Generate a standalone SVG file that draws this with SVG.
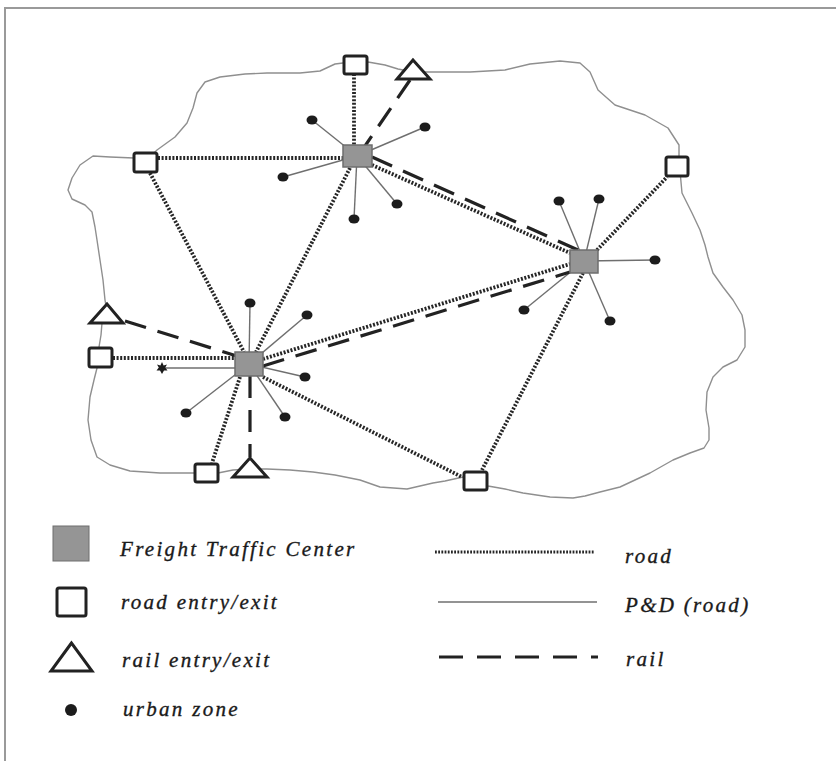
<svg xmlns="http://www.w3.org/2000/svg" width="836" height="761" viewBox="0 0 836 761">
  <style>
    .frame { stroke: #9a9a9a; stroke-width: 2; fill: none; }
    .region { fill: none; stroke: #8f8f8f; stroke-width: 1.4; stroke-linejoin: round; }
    .road { stroke: #262626; stroke-width: 3.8; stroke-dasharray: 2 1.6; fill: none; }
    .pd { stroke: #6f6f6f; stroke-width: 1.4; fill: none; }
    .rail { stroke: #222; stroke-width: 3.2; stroke-dasharray: 22 12; fill: none; }
    .ftc { fill: #959595; stroke: #6e6e6e; stroke-width: 1.5; }
    .entry { fill: #fff; stroke: #222; stroke-width: 3; }
    .zone { fill: #1c1c1c; }
    .label { font-family: "Liberation Serif", "Times New Roman", serif; font-style: italic; font-size: 21px; fill: #1a1a1a; stroke: #1a1a1a; stroke-width: 0.35; letter-spacing: 2.3px; }
  </style>

  <!-- page frame -->
  <path class="frame" d="M5 761 V8 H836"/>

  <!-- city boundary -->
  <path class="region" d="M355 63 L368 62 L385 65 L398 69 L413 72 L430 72 L470 72 L505 70 L530 64 L560 61 L580 63 L590 72 L598 90 L615 105 L645 115 L668 128 L679 145 L679 160 L682 193 L692 213 L700 230 L705 245 L708 257 L713 273 L723 287 L733 300 L742 315 L745 330 L745 347 L737 360 L723 367 L713 377 L707 392 L706 410 L709 428 L709 440 L704 448 L690 453 L673 460 L650 473 L620 487 L600 492 L585 496 L573 498 L550 497 L523 493 L505 489 L488 486 L475 481 L463 477 L445 481 L433 483 L407 489 L380 487 L360 480 L335 475 L313 472 L290 470 L267 469 L250 469 L233 470 L218 473 L206 473 L193 473 L160 473 L130 471 L110 465 L97 457 L91 440 L88 420 L90 397 L94 380 L97 368 L100 357 L99 347 L101 335 L102 323 L107 312 L105 300 L103 280 L100 260 L97 240 L95 227 L92 212 L85 205 L72 199 L68 190 L72 178 L80 165 L93 156 L110 157 L134 158 L145 162 L157 150 L175 137 L187 123 L193 108 L197 93 L205 82 L220 77 L245 74 L267 73 L300 73 L320 71 L335 64 L343 63 Z"/>

  <!-- connectors -->
  <g id="connectors">
    <!-- P&D (road) links to urban zones -->
    <g id="pd-links">
      <line class="pd" x1="357" y1="156" x2="312" y2="120"/>
      <line class="pd" x1="357" y1="156" x2="425" y2="127"/>
      <line class="pd" x1="357" y1="156" x2="283" y2="177"/>
      <line class="pd" x1="357" y1="156" x2="397" y2="204"/>
      <line class="pd" x1="357" y1="156" x2="354" y2="219"/>
      <line class="pd" x1="584" y1="261" x2="559" y2="201"/>
      <line class="pd" x1="584" y1="261" x2="599" y2="199"/>
      <line class="pd" x1="584" y1="261" x2="655" y2="260"/>
      <line class="pd" x1="584" y1="261" x2="524" y2="310"/>
      <line class="pd" x1="584" y1="261" x2="610" y2="321"/>
      <line class="pd" x1="249" y1="364" x2="250" y2="303"/>
      <line class="pd" x1="249" y1="364" x2="307" y2="315"/>
      <line class="pd" x1="249" y1="364" x2="305" y2="377"/>
      <line class="pd" x1="249" y1="364" x2="285" y2="417"/>
      <line class="pd" x1="249" y1="364" x2="186" y2="413"/>
      <line class="pd" x1="249" y1="368" x2="162" y2="368"/>
    </g>
    <!-- road links -->
    <g id="road-links">
      <line class="road" x1="354" y1="74" x2="354" y2="145"/>
      <line class="road" x1="158" y1="158" x2="343" y2="158"/>
      <line class="road" x1="372" y1="165" x2="570" y2="253"/>
      <line class="road" x1="350" y1="168" x2="256" y2="352"/>
      <line class="road" x1="150" y1="173" x2="244" y2="352"/>
      <line class="road" x1="113" y1="358" x2="235" y2="358"/>
      <line class="road" x1="263" y1="359" x2="570" y2="264"/>
      <line class="road" x1="240" y1="377" x2="212" y2="463"/>
      <line class="road" x1="263" y1="377" x2="462" y2="477"/>
      <line class="road" x1="583" y1="273" x2="482" y2="470"/>
      <line class="road" x1="597" y1="250" x2="667" y2="177"/>
    </g>
    <!-- rail links -->
    <g id="rail-links">
      <line class="rail" x1="410" y1="80" x2="365" y2="146"/>
      <line class="rail" x1="372" y1="157" x2="578" y2="250"/>
      <line class="rail" x1="125" y1="321" x2="240" y2="357"/>
      <line class="rail" x1="263" y1="366" x2="570" y2="272"/>
      <line class="rail" x1="250" y1="376" x2="250" y2="457"/>
    </g>
  </g>

  <!-- freight traffic centers -->
  <g id="ftc-north"><rect class="ftc" x="343" y="145" width="29" height="22"/></g>
  <g id="ftc-east"><rect class="ftc" x="570" y="250" width="28" height="23"/></g>
  <g id="ftc-west"><rect class="ftc" x="235" y="352" width="28" height="24"/></g>

  <!-- road entry/exit points -->
  <g id="road-entry-north"><rect class="entry" x="344" y="56" width="23" height="18" rx="2"/></g>
  <g id="road-entry-northwest"><rect class="entry" x="134" y="153" width="23" height="19" rx="2"/></g>
  <g id="road-entry-east"><rect class="entry" x="666" y="157" width="22" height="19" rx="2"/></g>
  <g id="road-entry-west"><rect class="entry" x="89" y="348" width="23" height="19" rx="2"/></g>
  <g id="road-entry-southwest"><rect class="entry" x="195" y="464" width="23" height="18" rx="2"/></g>
  <g id="road-entry-south"><rect class="entry" x="464" y="472" width="23" height="18" rx="2"/></g>

  <!-- rail entry/exit points -->
  <g id="rail-entry-north"><polygon class="entry" points="413,60 397,79 430,79"/></g>
  <g id="rail-entry-west"><polygon class="entry" points="107,304 90,323 123,323"/></g>
  <g id="rail-entry-south"><polygon class="entry" points="250,458 233,477 267,477"/></g>

  <!-- urban zones -->
  <g id="urban-zones">
    <ellipse class="zone" cx="312" cy="120" rx="5.5" ry="4.5"/>
    <ellipse class="zone" cx="425" cy="127" rx="5.5" ry="4.5"/>
    <ellipse class="zone" cx="283" cy="177" rx="5.5" ry="4.5"/>
    <ellipse class="zone" cx="397" cy="204" rx="5.5" ry="4.5"/>
    <ellipse class="zone" cx="354" cy="219" rx="5.5" ry="4.5"/>
    <ellipse class="zone" cx="559" cy="201" rx="5.5" ry="4.5"/>
    <ellipse class="zone" cx="599" cy="199" rx="5.5" ry="4.5"/>
    <ellipse class="zone" cx="655" cy="260" rx="5.5" ry="4.5"/>
    <ellipse class="zone" cx="524" cy="310" rx="5.5" ry="4.5"/>
    <ellipse class="zone" cx="610" cy="321" rx="5.5" ry="4.5"/>
    <ellipse class="zone" cx="250" cy="303" rx="5.5" ry="4.5"/>
    <ellipse class="zone" cx="307" cy="315" rx="5.5" ry="4.5"/>
    <ellipse class="zone" cx="305" cy="377" rx="5.5" ry="4.5"/>
    <ellipse class="zone" cx="285" cy="417" rx="5.5" ry="4.5"/>
    <ellipse class="zone" cx="186" cy="413" rx="5.5" ry="4.5"/>
    <polygon class="zone" points="162,362 163.6,365.5 167,364.5 165.2,367.5 167.5,370.5 164,370.5 162,374 160,370.5 156.5,370.5 158.8,367.5 157,364.5 160.4,365.5"/>
  </g>

  <!-- legend -->
  <g id="legend">
    <rect class="ftc" x="53" y="526" width="36" height="35" style="stroke-width:1"/>
    <text class="label" x="120" y="556">Freight Traffic Center</text>
    <rect class="entry" x="57" y="588" width="29" height="28" rx="2"/>
    <text class="label" x="121" y="609">road entry/exit</text>
    <polygon class="entry" points="71.5,643 51,671 92,671"/>
    <text class="label" x="122" y="667">rail entry/exit</text>
    <circle class="zone" cx="71" cy="710" r="6"/>
    <text class="label" x="123" y="716">urban zone</text>

    <line class="road" x1="435" y1="552" x2="595" y2="552" style="stroke-width:3; stroke-dasharray:1.8 1.4"/>
    <text class="label" x="625" y="563">road</text>
    <line class="pd" x1="438" y1="602" x2="597" y2="602"/>
    <text class="label" x="625" y="612">P&amp;D (road)</text>
    <line class="rail" x1="439" y1="657" x2="598" y2="657" style="stroke-dasharray:24 14"/>
    <text class="label" x="626" y="666">rail</text>
  </g>
</svg>
